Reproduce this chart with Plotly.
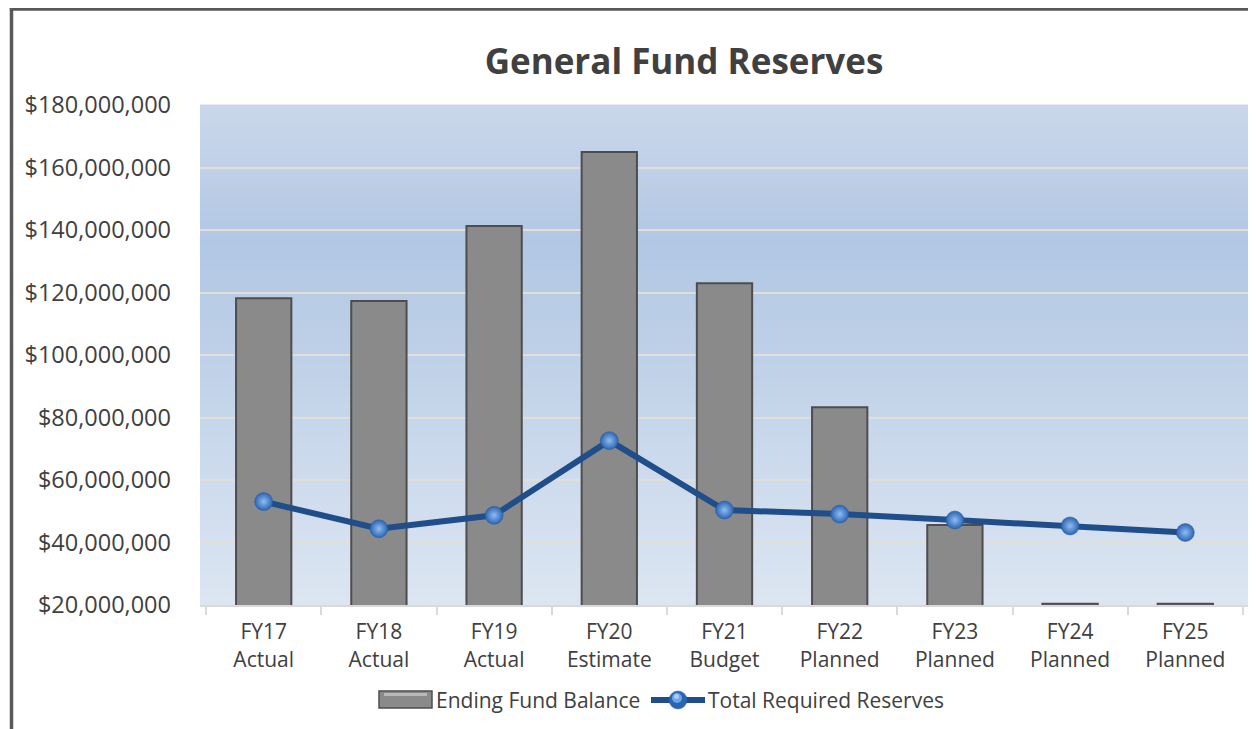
import plotly.graph_objects as go

categories = ["FY17<br>Actual", "FY18<br>Actual", "FY19<br>Actual", "FY20<br>Estimate",
              "FY21<br>Budget", "FY22<br>Planned", "FY23<br>Planned", "FY24<br>Planned",
              "FY25<br>Planned"]
ending_fund_balance = [118200000, 117300000, 141300000, 165000000, 123000000,
                       83300000, 45600000, 20400000, 20400000]
total_required_reserves = [53100000, 44400000, 48700000, 72600000, 50400000,
                           49100000, 47200000, 45300000, 43200000]
y_ticks = [20000000, 40000000, 60000000, 80000000, 100000000, 120000000,
           140000000, 160000000, 180000000]
y_tick_labels = ["$20,000,000", "$40,000,000", "$60,000,000", "$80,000,000",
                 "$100,000,000", "$120,000,000", "$140,000,000", "$160,000,000",
                 "$180,000,000"]
legend_labels = ["Ending Fund Balance", "Total Required Reserves"]

OFF = 8  # page body margin
W, H = 1256 - OFF, 729 - OFF
# plot area in reference-pixel coordinates
PX0, PX1, PY0, PY1 = 200, 1249, 105, 605
L = PX0 - OFF
R = W - (PX1 - OFF)
T = PY0 - OFF
B = H - (PY1 - OFF)
pw = PX1 - PX0
ph = PY1 - PY0

def px_x(px):
    return (px - PX0) / pw

def px_y(py):
    return (PY1 - py) / ph

FONT = "Open Sans"
TXT = "#404040"
BAR_FILL = "#8a8a8a"
BAR_EDGE = "#4d4d4d"
LINE_COL = "#1f4e8a"
MARK_COL = "#2a64b4"

fig = go.Figure()
fig.add_trace(go.Bar(
    x=categories, y=ending_fund_balance, name=legend_labels[0],
    marker=dict(color=BAR_FILL, line=dict(color=BAR_EDGE, width=2)),
    showlegend=False,
))
fig.add_trace(go.Scatter(
    x=categories, y=total_required_reserves, name=legend_labels[1],
    mode="lines+markers",
    line=dict(color=LINE_COL, width=6),
    marker=dict(size=18, color=MARK_COL,
                gradient=dict(type="radial", color="#8fbdf0"),
                line=dict(color="#2a5a9e", width=0.5)),
    showlegend=False,
))

# gradient background via thin strips
def lerp(c1, c2, t):
    return tuple(c1[i] + (c2[i] - c1[i]) * t for i in range(3))

stops = [(0.0, (203, 216, 235)), (0.28, (177, 199, 227)), (1.0, (221, 230, 242))]
shapes = []
N = 60
for i in range(N):
    f0 = i / N
    f1 = (i + 1) / N
    fm = (f0 + f1) / 2
    for j in range(len(stops) - 1):
        if stops[j][0] <= fm <= stops[j + 1][0]:
            t = (fm - stops[j][0]) / (stops[j + 1][0] - stops[j][0])
            c = lerp(stops[j][1], stops[j + 1][1], t)
            break
    col = "rgb(%d,%d,%d)" % tuple(int(round(v)) for v in c)
    shapes.append(dict(type="rect", xref="paper", yref="paper",
                       x0=0, x1=1, y0=1 - f1, y1=1 - f0 + 0.001,
                       fillcolor=col, line=dict(width=0), layer="below"))

# outer frame (left and top edges)
shapes.append(dict(type="line", xref="paper", yref="paper",
                   x0=px_x(11.5), x1=px_x(11.5), y0=px_y(735), y1=px_y(7.5),
                   line=dict(color="#595959", width=3.5), layer="above"))
shapes.append(dict(type="line", xref="paper", yref="paper",
                   x0=px_x(9.8), x1=px_x(1260), y0=px_y(9), y1=px_y(9),
                   line=dict(color="#595959", width=3.5), layer="above"))

# custom legend
LEG_Y = 700
shapes.append(dict(type="rect", xref="paper", yref="paper",
                   x0=px_x(379), x1=px_x(432), y0=px_y(708), y1=px_y(691),
                   fillcolor=BAR_FILL, line=dict(color=BAR_EDGE, width=1.5),
                   layer="above"))
shapes.append(dict(type="rect", xref="paper", yref="paper",
                   x0=px_x(384), x1=px_x(427), y0=px_y(696), y1=px_y(693),
                   fillcolor="#b8b8b8", line=dict(width=0), layer="above"))
shapes.append(dict(type="line", xref="paper", yref="paper",
                   x0=px_x(651), x1=px_x(705), y0=px_y(LEG_Y), y1=px_y(LEG_Y),
                   line=dict(color=LINE_COL, width=6), layer="above"))
shapes.append(dict(type="circle", xref="paper", yref="paper",
                   x0=px_x(669), x1=px_x(687), y0=px_y(709), y1=px_y(691),
                   fillcolor=MARK_COL, line=dict(color="#2a5a9e", width=0.5),
                   layer="above"))
shapes.append(dict(type="circle", xref="paper", yref="paper",
                   x0=px_x(672), x1=px_x(682), y0=px_y(703), y1=px_y(693),
                   fillcolor="#6fa5e6", line=dict(width=0), layer="above"))
shapes.append(dict(type="circle", xref="paper", yref="paper",
                   x0=px_x(674), x1=px_x(679), y0=px_y(699), y1=px_y(694),
                   fillcolor="#a9cdf5", line=dict(width=0), layer="above"))

annotations = [
    dict(text=legend_labels[0], xref="paper", yref="paper",
         x=px_x(434), y=px_y(LEG_Y), xanchor="left", yanchor="middle",
         showarrow=False, font=dict(family=FONT, size=21, color=TXT)),
    dict(text=legend_labels[1], xref="paper", yref="paper",
         x=px_x(706), y=px_y(LEG_Y), xanchor="left", yanchor="middle",
         showarrow=False, font=dict(family=FONT, size=21, color=TXT)),
]

fig.update_layout(
    width=W, height=H,
    margin=dict(l=L, r=R, t=T, b=B, autoexpand=False),
    paper_bgcolor="white",
    plot_bgcolor="rgb(210,222,238)",
    title=dict(text="<b>General Fund Reserves</b>", x=px_x(684), xref="paper",
               xanchor="center", y=1 - (62 - OFF) / H, yanchor="middle",
               font=dict(family=FONT, size=35, color=TXT)),
    font=dict(family=FONT, color=TXT),
    bargap=0.52,
    showlegend=False,
    shapes=shapes,
    annotations=annotations,
    yaxis=dict(range=[20000000, 180000000], tickvals=y_ticks, ticktext=y_tick_labels,
               showgrid=True, gridcolor="#e2dfd8", gridwidth=2,
               zeroline=False, showline=False,
               tickfont=dict(family=FONT, size=23.5, color=TXT), ticks="",
               ticklabelstandoff=28),
    xaxis=dict(showline=True, linecolor="#d9d9d9", linewidth=2,
               ticks="outside", tickson="boundaries", ticklen=8,
               tickcolor="#d9d9d9", tickwidth=2, ticklabelstandoff=7,
               tickfont=dict(family=FONT, size=21, color=TXT), showgrid=False),
)

fig.write_html("out.html")
